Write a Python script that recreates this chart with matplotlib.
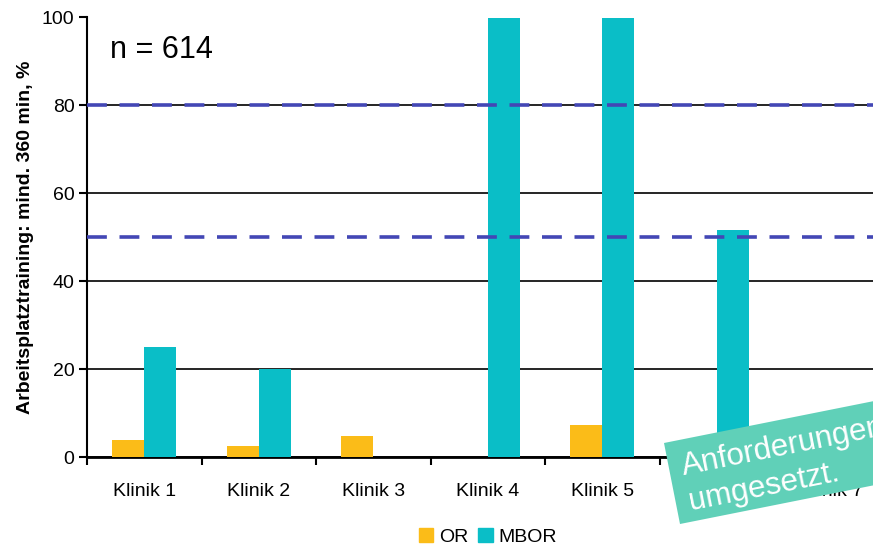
import numpy as np
import matplotlib
matplotlib.use("Agg")
import matplotlib.pyplot as plt
from matplotlib.patches import Polygon, Patch

plt.rcParams['font.family'] = ['Liberation Sans', 'DejaVu Sans']

# Data
kliniken = ["Klinik 1", "Klinik 2", "Klinik 3", "Klinik 4", "Klinik 5", "Klinik 6", "Klinik 7"]
or_values = [3.8, 2.4, 4.8, 0, 7.3, 0, 0]
mbor_values = [25, 20.1, 0, 100, 100, 51.7, 0]
ref_lines = [80, 50]
y_ticks = [0, 20, 40, 60, 80, 100]


def main() -> None:
    W, H = 873, 547
    fig = plt.figure(figsize=(W / 100, H / 100), dpi=100)
    # axes extends past the right border like in the original (cropped)
    ax = fig.add_axes([87 / W, 90 / H, 801.5 / W, 439.5 / H])

    x = np.arange(len(kliniken))
    bw = 0.28
    ax.bar(x - bw / 2, or_values, bw, color="#FBBC18", zorder=3)
    ax.bar(x + bw / 2, mbor_values, bw, color="#0ABEC7", zorder=3)

    for v in ref_lines:
        ax.axhline(v, color="#4347B5", lw=2.6, ls=(0, (5.5, 3.5)), zorder=4)

    ax.set_xlim(-0.5, len(kliniken) - 0.5)
    ax.set_ylim(0, 100)
    ax.set_yticks(y_ticks)
    ax.yaxis.grid(True, color="black", lw=1.2, zorder=1)
    ax.set_axisbelow(True)

    ax.set_xticks(np.arange(len(kliniken) + 1) - 0.5)
    ax.set_xticklabels([])
    ax.set_xticks(x, minor=True)
    ax.set_xticklabels(kliniken, minor=True, fontsize=14)
    ax.tick_params(axis="x", which="minor", length=0, pad=19)
    ax.tick_params(axis="x", which="major", length=6, width=1.5, direction="out")
    ax.tick_params(axis="y", length=6, width=1.5, labelsize=14, pad=3)

    for s in ["top", "right"]:
        ax.spines[s].set_visible(False)
    ax.spines["left"].set_linewidth(1.5)
    ax.spines["bottom"].set_linewidth(2)

    ax.set_ylabel("Arbeitsplatztraining: mind. 360 min, %", fontsize=14,
                  fontweight="bold", labelpad=6)

    fig.text(110 / W, 1 - 58 / H, "n = 614", fontsize=22)

    handles = [Patch(color="#FBBC18", label="OR"), Patch(color="#0ABEC7", label="MBOR")]
    fig.legend(handles=handles, loc="center", bbox_to_anchor=(488 / W, 1 - 537 / H),
               ncol=2, frameon=False, fontsize=14, handlelength=0.75, handleheight=0.75,
               handletextpad=0.3, columnspacing=0.5)

    # rotated overlay box
    ang = np.deg2rad(11.3)
    d = np.array([np.cos(ang), -np.sin(ang)]) * 320
    tl = np.array([664, 443])
    bl = np.array([680, 524])
    corners = [tl, tl + d, bl + d, bl]
    poly = Polygon([(cx / W, 1 - cy / H) for cx, cy in corners], closed=True,
                   transform=fig.transFigure, facecolor="#60D0B8", edgecolor="none", zorder=10)
    fig.patches.append(poly)
    fig.text(684 / W, 1 - 475 / H, "Anforderungen", fontsize=22.5, color="white",
             rotation=11.3, rotation_mode="anchor", ha="left", va="baseline", zorder=11)
    fig.text(691 / W, 1 - 510 / H, "umgesetzt.", fontsize=22.5, color="white",
             rotation=11.3, rotation_mode="anchor", ha="left", va="baseline", zorder=11)

    fig.savefig("out.png", dpi=100)


if __name__ == '__main__':
    main()
